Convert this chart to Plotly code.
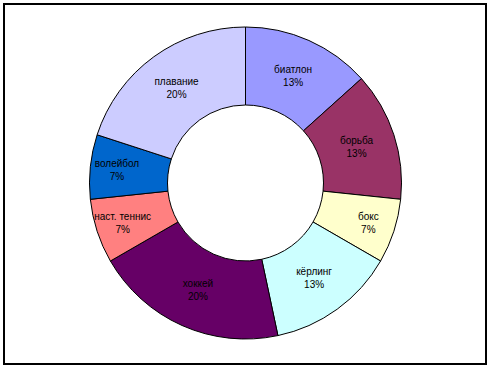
import plotly.graph_objects as go

categories = ["биатлон", "борьба", "бокс", "кёрлинг", "хоккей", "наст. теннис", "волейбол", "плавание"]
values = [2, 2, 1, 2, 3, 1, 1, 3]
colors = ["#9999FF", "#993366", "#FFFFCC", "#CCFFFF", "#660066", "#FF8080", "#0066CC", "#CCCCFF"]

W, H = 492, 368
cx, cy, r = 245.5, 183, 156

fig = go.Figure(go.Pie(
    labels=categories,
    values=values,
    sort=False,
    direction="clockwise",
    rotation=0,
    hole=0.5,
    marker=dict(colors=colors, line=dict(color="black", width=1)),
    texttemplate="%{label}<br>%{percent:.0%}",
    textposition="inside",
    insidetextorientation="horizontal",
    textfont=dict(family="Liberation Sans, Arial, sans-serif", size=10, color="black"),
    showlegend=False,
    hoverinfo="skip",
    domain=dict(x=[(cx - r) / W, (cx + r) / W], y=[(H - cy - r) / H, (H - cy + r) / H]),
))

fig.update_layout(
    width=W, height=H,
    margin=dict(l=0, r=0, t=0, b=0),
    paper_bgcolor="white",
    plot_bgcolor="white",
    uniformtext=dict(minsize=10, mode="show"),
    shapes=[dict(type="rect", xref="paper", yref="paper",
                 x0=4 / W, x1=486 / W, y0=1 - 364 / H, y1=1 - 4 / H,
                 line=dict(color="black", width=2))],
)

fig.write_html("out.html", config={"displayModeBar": False},
               post_script="document.body.style.margin='0';document.body.style.overflow='hidden';")
